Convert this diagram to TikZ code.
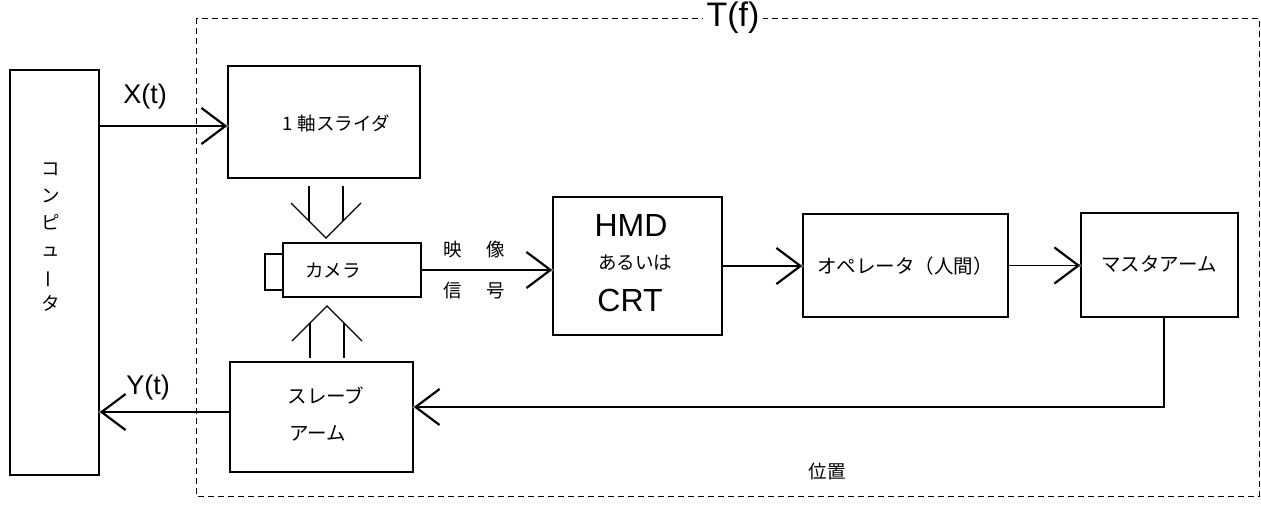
\documentclass[tikz,border=0pt]{standalone}
\usepackage{fontspec}
\usepackage{graphicx}
\setmainfont{Liberation Sans}
\newfontfamily\jp{Noto Sans CJK JP}
\usetikzlibrary{arrows.meta,calc}

\begin{document}
\begin{tikzpicture}[x=1pt,y=-1pt,
  box/.style={draw, line width=1.5pt, inner sep=0pt},
  conn/.style={line width=1.3pt},
  barb/.style={conn, -{Straight Barb[length=24pt,width=36pt,line width=2.2pt 0]}},
  jplabel/.style={font=\jp\fontsize{18.5}{21}\selectfont, inner sep=0pt},
  latin/.style={font=\fontsize{27}{30}\selectfont, inner sep=0pt},
  frame/.style={dash pattern=on 6pt off 4pt, line width=1pt},
  hollow/.style={line width=1.4pt, line join=miter},
  tipdot/.style={fill=black!55, draw=black!80, line width=0.4pt}
]
\useasboundingbox (0,0) rectangle (1261,506);

% system boundary T(f)
\draw[frame] (196,18) rectangle (1259,496);
\node[font=\fontsize{34}{36}\selectfont, fill=white, inner xsep=4pt, inner ysep=0pt] (tf) at (733,18) {T(f)};

% computer
\node[box, minimum width=89pt, minimum height=405pt] (comp) at (54.5,272.5) {};
\node[jplabel, font=\jp\fontsize{18.5}{27}\selectfont, align=center] (comptext) at (51,237)
  {コ\\ン\\ピ\\ュ\\\rotatebox[origin=c]{90}{ー}\\タ};

% one-axis slider
\node[box, minimum width=192pt, minimum height=112pt] (slider) at (324,122) {};
\node[jplabel] (slidertext) at (336,123) {1\hspace{5pt}軸スライダ};

% camera with lens
\node[box, minimum width=19pt, minimum height=36pt] (lens) at (274.5,272) {};
\node[box, fill=white, minimum width=138pt, minimum height=54pt] (cam) at (352,270) {};
\node[jplabel] (camtext) at (333,271) {カメラ};

% slave arm
\node[box, minimum width=183pt, minimum height=110pt] (slave) at (321.5,417) {};
\node[jplabel, font=\jp\fontsize{19.5}{22}\selectfont] (slavetext1) at (326,395) {スレーブ};
\node[jplabel, font=\jp\fontsize{19.5}{22}\selectfont] (slavetext2) at (318,433) {アーム};

% display
\node[box, minimum width=169pt, minimum height=138pt] (hmd) at (637.5,266) {};
\node[font=\fontsize{32}{34}\selectfont, inner sep=0pt] (hmdtext) at (631,225) {HMD};
\node[jplabel] (hmdor) at (635,263) {あるいは};
\node[font=\fontsize{32}{34}\selectfont, inner sep=0pt] (crttext) at (630,300) {CRT};

% operator and master arm
\node[box, minimum width=205pt, minimum height=103pt] (op) at (905.5,265.5) {};
\node[jplabel, font=\jp\fontsize{19.5}{22}\selectfont] (optext) at (905,266) {オペレータ（人間）};
\node[box, minimum width=157pt, minimum height=104pt] (master) at (1159.5,265) {};
\node[jplabel, font=\jp\fontsize{19.5}{22}\selectfont] (mastertext) at (1159,264) {マスタアーム};

% hollow arrows onto the camera
\draw[hollow] (309,186) -- (309,221) (343,186) -- (343,221);
\draw[hollow] (291,203) -- (326,238) -- (361,203);
\draw[hollow] (310,323) -- (310,358) (344,323) -- (344,358);
\draw[hollow] (292,341) -- (327,306) -- (362,341);

% signal connectors
\coordinate (xin) at ($(slider.west)+(0,4)$);
\draw[barb] (xin -| comp.east) -- (xin);
\draw[barb] (cam.east) -- (cam.east -| hmd.west);
\draw[barb] (hmd.east) -- (hmd.east -| op.west);
\draw[barb] (op.east) -- (op.east -| master.west);
\coordinate (fb) at ($(master.south)+(4.5,0)$);
\coordinate (yin) at ($(slave.east)+(0,-10)$);
\draw[barb] (fb) |- (yin);
\coordinate (yout) at ($(slave.west)+(0,-5)$);
\draw[barb] (yout) -- (yout -| comp.east);

% joint marks at the arrow tips
\foreach \p in {(xin), (cam.east -| hmd.west), (hmd.east -| op.west), (op.east -| master.west), (yin), (yout -| comp.east)}
  \filldraw[tipdot] \p circle (1.6pt);

% labels
\node[latin] (xlabel) at (145,97) {X(t)};
\node[latin] (ylabel) at (148,388) {Y(t)};
\node[jplabel] (eizo) at (474,250) {映\hspace{24pt}像};
\node[jplabel] (shingo) at (474,291) {信\hspace{24pt}号};
\node[jplabel] (ichi) at (827,472) {位置};
\end{tikzpicture}
\end{document}
